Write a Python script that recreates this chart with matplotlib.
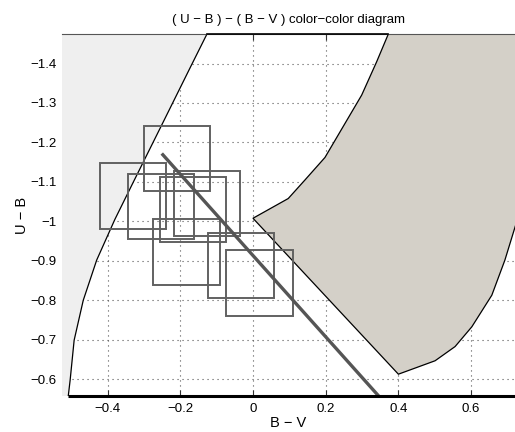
import matplotlib
matplotlib.use("Agg")
from matplotlib import pyplot as plt
from matplotlib.patches import Polygon, Rectangle

plt.rcParams['font.family'] = ['Liberation Sans', 'DejaVu Sans']

# boundary of the left (blue-side) excluded region, B-V vs U-B
left_bv = [-0.512, -0.508, -0.503, -0.492, -0.467, -0.430, -0.380, -0.329, -0.249, -0.172, -0.127, -0.113]
left_ub = [-0.530, -0.559, -0.598, -0.699, -0.800, -0.902, -1.005, -1.100, -1.248, -1.391, -1.474, -1.500]

# boundary of the right (red-side) excluded region
right_bv = [0.393, 0.372, 0.340, 0.299, 0.198, 0.143, 0.097, 0.0, 0.400, 0.501, 0.556, 0.602, 0.657, 0.693, 0.721, 0.76, 0.85]
right_ub = [-1.520, -1.474, -1.404, -1.320, -1.162, -1.105, -1.058, -1.008, -0.613, -0.647, -0.683, -0.733, -0.813, -0.902, -0.986, -1.10, -1.52]

# measured colours (box centres) and box half-sizes
obs_bv = [-0.208, -0.330, -0.254, -0.166, -0.127, -0.183, -0.032, 0.018]
obs_ub = [-1.159, -1.064, -1.038, -1.030, -1.045, -0.922, -0.888, -0.844]
half_bv = 0.091
half_ub = 0.083

# reddening line
red_bv = [-0.251, 0.36]
red_ub = [-1.172, -0.543]

xmin, xmax = -0.5254, 0.7208
ymin, ymax = -0.5585, -1.474

fig = plt.figure(figsize=(5.15, 4.32), dpi=100)
ax = fig.add_axes([62 / 515, 36.3 / 432, 1 - 62 / 515, (395.7 - 34.3) / 432])
ax.set_xlim(xmin, xmax)
ax.set_ylim(ymin, ymax)
ax.set_axisbelow(True)

# shaded excluded regions
left_poly = list(zip(left_bv, left_ub)) + [(-0.7, -1.5), (-0.7, -0.5)]
ax.add_patch(Polygon(left_poly, closed=True, facecolor='#efefef', edgecolor='none', zorder=1))
ax.plot(left_bv, left_ub, color='black', lw=0.9, zorder=2)
ax.add_patch(Polygon(list(zip(right_bv, right_ub)), closed=True, facecolor='#d4d0c8',
                     edgecolor='black', lw=0.9, zorder=1))

# boxes
for bv, ub in zip(obs_bv, obs_ub):
    ax.add_patch(Rectangle((bv - half_bv, ub - half_ub), 2 * half_bv, 2 * half_ub,
                           fill=False, edgecolor='#616161', lw=1.4, zorder=3))

ax.plot(red_bv, red_ub, color='#555555', lw=2.4, zorder=4, solid_capstyle='butt')

# top edge of allowed region and thick bottom line
ax.plot([-0.127, 0.372], [ymax, ymax], color='black', lw=1.2, zorder=5, clip_on=False)
ax.plot([-0.508, xmax], [ymin, ymin], color='black', lw=2.2, zorder=5, clip_on=False,
        solid_capstyle='butt')

xticks = [-0.4, -0.2, 0, 0.2, 0.4, 0.6]
xlabels = ['\u22120.4', '\u22120.2', '0', '0.2', '0.4', '0.6']
yticks = [-1.4, -1.3, -1.2, -1.1, -1.0, -0.9, -0.8, -0.7, -0.6]
ylabels = ['\u22121.4', '\u22121.3', '\u22121.2', '\u22121.1', '\u22121', '\u22120.9',
           '\u22120.8', '\u22120.7', '\u22120.6']
ax.set_xticks(xticks)
ax.set_xticklabels(xlabels)
ax.set_yticks(yticks)
ax.set_yticklabels(ylabels)
ax.tick_params(axis='x', direction='in', length=4, width=0.8, color='#333333',
               top=True, labelsize=9.5, pad=5)
ax.tick_params(axis='y', length=0, labelsize=9.5, pad=4)
ax.grid(True, color='#555555', linestyle=(0, (1, 3.5)), lw=0.8)

for s in ['left', 'right', 'bottom']:
    ax.spines[s].set_visible(False)
ax.spines['top'].set_color('#555555')
ax.spines['top'].set_linewidth(0.8)

ax.set_title('( U \u2212 B ) \u2212 ( B \u2212 V ) color\u2212color diagram', fontsize=9.5, pad=8)
ax.set_xlabel('B \u2212 V', fontsize=10.5, labelpad=1)
ax.set_ylabel('U \u2212 B', fontsize=10.5, labelpad=1)

fig.savefig('out.png', dpi=100)
